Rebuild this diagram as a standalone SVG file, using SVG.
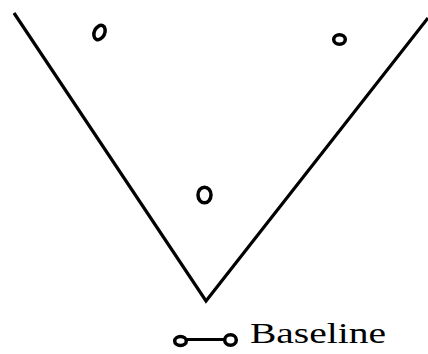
<svg xmlns="http://www.w3.org/2000/svg" width="428" height="354" viewBox="0 0 428 354">
<style>
.ln{fill:none;stroke:#000;stroke-width:3.2;stroke-linecap:butt;stroke-linejoin:miter}
.pt{fill:none;stroke:#000;stroke-width:3.5}
.lbl{font-family:"Liberation Serif",serif;font-size:29px;fill:#000}
</style>
<rect width="428" height="354" fill="#fff"/>
<g id="connectors">
<polyline class="ln" points="14,13 206,301 428,18"/>
</g>
<g id="p1"><ellipse class="pt" cx="99.5" cy="32.5" rx="5.2" ry="7.5" transform="rotate(25 99.5 32.5)"/></g>
<g id="p2"><ellipse class="pt" cx="339.5" cy="39.5" rx="5.8" ry="4.8"/></g>
<g id="p3"><ellipse class="pt" cx="204.5" cy="195" rx="6.5" ry="7.8"/></g>
<g id="legend">
<ellipse class="pt" cx="180.5" cy="341" rx="5.8" ry="4.5"/>
<line class="ln" x1="186" y1="339.5" x2="224" y2="339.5"/>
<ellipse class="pt" cx="230.5" cy="340" rx="5.8" ry="5.2"/>
<text class="lbl" x="250" y="343" textLength="136" lengthAdjust="spacingAndGlyphs">Baseline</text>
</g>
</svg>
